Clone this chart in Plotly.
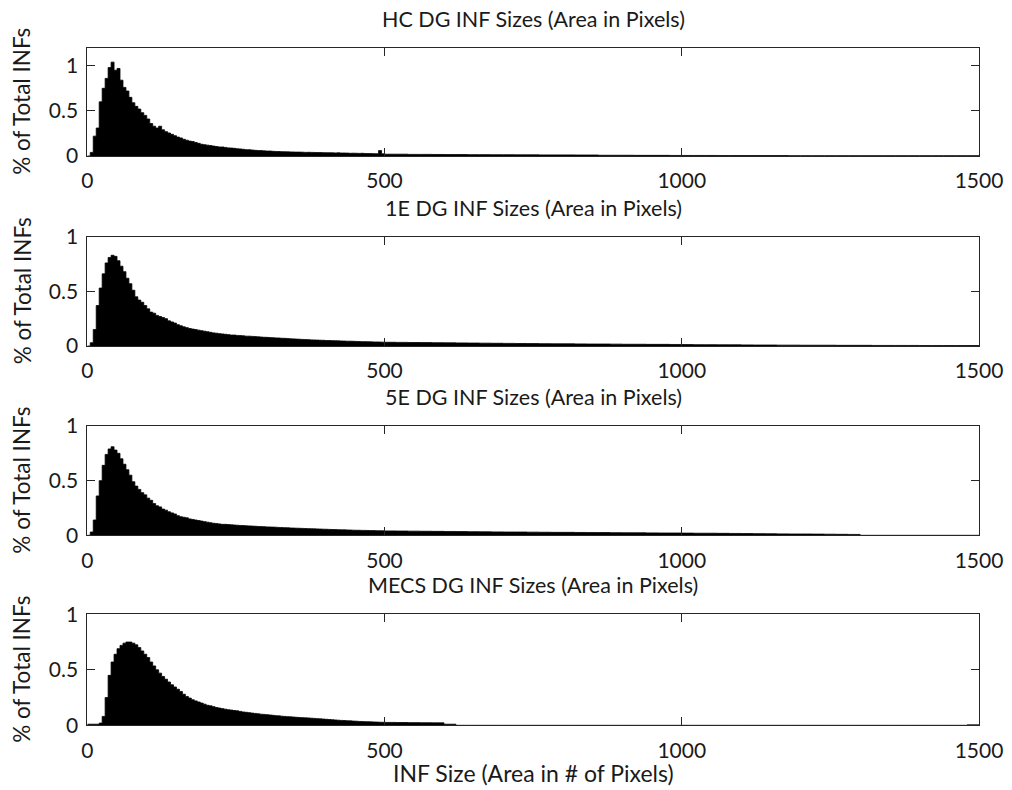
import numpy as np
import plotly.graph_objects as go

# Histogram bins: 5-pixel bins up to 500, 20-pixel bins from 500 to 1500
head_left = np.arange(0, 500, 5)
tail_left = np.arange(500, 1500, 20)
x_end = 1500

titles = [
    "HC DG INF Sizes (Area in Pixels)",
    "1E DG INF Sizes (Area in Pixels)",
    "5E DG INF Sizes (Area in Pixels)",
    "MECS DG INF Sizes (Area in Pixels)",
]

# % of total INFs per bin
hc_head = [
    0.0, 0.04, 0.22, 0.31, 0.60, 0.75, 0.86, 0.98, 1.04, 0.95,
    0.97, 0.84, 0.76, 0.72, 0.65, 0.59, 0.55, 0.52, 0.48, 0.45,
    0.41, 0.36, 0.33, 0.31, 0.33, 0.29, 0.27, 0.255, 0.24, 0.225,
    0.21, 0.20, 0.185, 0.175, 0.165, 0.16, 0.15, 0.14, 0.13, 0.125,
    0.12, 0.115, 0.11, 0.105, 0.10, 0.10, 0.095, 0.09, 0.088, 0.085,
    0.08, 0.078, 0.074, 0.07, 0.07, 0.066, 0.063, 0.06, 0.06, 0.057,
    0.055, 0.055, 0.052, 0.05, 0.05, 0.048, 0.047, 0.046, 0.045, 0.044,
    0.043, 0.043, 0.042, 0.04, 0.041, 0.04, 0.039, 0.038, 0.038, 0.037,
    0.036, 0.036, 0.035, 0.034, 0.035, 0.033, 0.033, 0.032, 0.03, 0.031,
    0.03, 0.029, 0.03, 0.028, 0.027, 0.027, 0.026, 0.025, 0.06, 0.024,
]
hc_tail = [
    0.02, 0.02, 0.018, 0.018, 0.017, 0.016, 0.016, 0.015, 0.015, 0.014,
    0.014, 0.013, 0.013, 0.012, 0.012, 0.012, 0.011, 0.011, 0.008, 0.008,
    0.008, 0.007, 0.007, 0.007, 0.006, 0.006, 0.006, 0.006, 0.005, 0.005,
    0.005, 0.005, 0.005, 0.005, 0.004, 0.004, 0.004, 0.004, 0.004, 0.004,
    0.004, 0.004, 0.004, 0.004, 0.004, 0.004, 0.004, 0.004, 0.004, 0.004,
]

e1_head = [
    0.0, 0.03, 0.15, 0.37, 0.53, 0.66, 0.76, 0.81, 0.83, 0.82,
    0.78, 0.73, 0.68, 0.62, 0.57, 0.51, 0.45, 0.42, 0.40, 0.37,
    0.34, 0.31, 0.30, 0.28, 0.27, 0.26, 0.25, 0.23, 0.22, 0.21,
    0.195, 0.185, 0.175, 0.168, 0.16, 0.155, 0.15, 0.145, 0.14, 0.135,
    0.13, 0.125, 0.12, 0.117, 0.113, 0.11, 0.107, 0.104, 0.10, 0.10,
    0.097, 0.095, 0.093, 0.09, 0.09, 0.088, 0.086, 0.084, 0.082, 0.08,
    0.079, 0.077, 0.076, 0.074, 0.073, 0.071, 0.07, 0.068, 0.066, 0.065,
    0.063, 0.062, 0.06, 0.059, 0.058, 0.056, 0.055, 0.054, 0.053, 0.052,
    0.05, 0.05, 0.049, 0.048, 0.047, 0.046, 0.045, 0.044, 0.044, 0.043,
    0.042, 0.041, 0.04, 0.04, 0.039, 0.038, 0.037, 0.037, 0.036, 0.035,
]
e1_tail = [
    0.034, 0.033, 0.032, 0.031, 0.03, 0.029, 0.028, 0.027, 0.026, 0.025,
    0.024, 0.023, 0.022, 0.021, 0.02, 0.02, 0.019, 0.018, 0.018, 0.017,
    0.016, 0.016, 0.015, 0.015, 0.014, 0.013, 0.012, 0.012, 0.011, 0.011,
    0.01, 0.009, 0.009, 0.008, 0.008, 0.007, 0.007, 0.007, 0.006, 0.006,
    0.006, 0.005, 0.005, 0.005, 0.005, 0.004, 0.004, 0.004, 0.004, 0.004,
]

e5_head = [
    0.0, 0.03, 0.14, 0.36, 0.50, 0.64, 0.74, 0.79, 0.81, 0.78,
    0.75, 0.70, 0.65, 0.60, 0.55, 0.49, 0.45, 0.42, 0.39, 0.37,
    0.34, 0.32, 0.29, 0.27, 0.26, 0.24, 0.23, 0.215, 0.205, 0.195,
    0.18, 0.17, 0.165, 0.16, 0.15, 0.145, 0.14, 0.135, 0.13, 0.125,
    0.12, 0.115, 0.11, 0.107, 0.104, 0.10, 0.10, 0.098, 0.096, 0.094,
    0.092, 0.09, 0.089, 0.087, 0.086, 0.084, 0.083, 0.081, 0.08, 0.079,
    0.077, 0.076, 0.075, 0.074, 0.072, 0.071, 0.07, 0.069, 0.067, 0.066,
    0.065, 0.064, 0.063, 0.062, 0.061, 0.06, 0.059, 0.058, 0.057, 0.056,
    0.055, 0.054, 0.053, 0.052, 0.051, 0.05, 0.05, 0.049, 0.048, 0.047,
    0.046, 0.046, 0.045, 0.045, 0.044, 0.043, 0.043, 0.042, 0.042, 0.041,
]
e5_tail = [
    0.04, 0.039, 0.038, 0.037, 0.036, 0.035, 0.034, 0.033, 0.032, 0.031,
    0.03, 0.03, 0.029, 0.028, 0.027, 0.027, 0.026, 0.025, 0.025, 0.024,
    0.023, 0.023, 0.022, 0.021, 0.021, 0.02, 0.019, 0.019, 0.018, 0.017,
    0.016, 0.015, 0.014, 0.013, 0.012, 0.012, 0.011, 0.01, 0.009, 0.008,
    0.0, 0.0, 0.0, 0.0, 0.0, 0.0, 0.0, 0.0, 0.0, 0.0,
]

mecs_head = [
    0.01, 0.01, 0.01, 0.01, 0.02, 0.08, 0.25, 0.45, 0.57, 0.64,
    0.69, 0.72, 0.74, 0.75, 0.75, 0.74, 0.725, 0.70, 0.67, 0.64,
    0.61, 0.57, 0.535, 0.50, 0.47, 0.44, 0.415, 0.39, 0.365, 0.345,
    0.325, 0.305, 0.28, 0.26, 0.245, 0.23, 0.22, 0.21, 0.20, 0.19,
    0.18, 0.175, 0.168, 0.16, 0.155, 0.15, 0.145, 0.14, 0.137, 0.133,
    0.13, 0.125, 0.12, 0.117, 0.114, 0.11, 0.107, 0.104, 0.10, 0.098,
    0.096, 0.093, 0.09, 0.087, 0.085, 0.082, 0.08, 0.078, 0.076, 0.074,
    0.072, 0.07, 0.069, 0.067, 0.066, 0.064, 0.062, 0.06, 0.058, 0.056,
    0.054, 0.052, 0.05, 0.048, 0.046, 0.044, 0.043, 0.041, 0.04, 0.038,
    0.037, 0.035, 0.034, 0.033, 0.032, 0.031, 0.03, 0.029, 0.028, 0.027,
]
mecs_tail = [
    0.026, 0.025, 0.024, 0.023, 0.022, 0.01, 0.0, 0.0, 0.0, 0.0,
    0.0, 0.0, 0.0, 0.0, 0.0, 0.0, 0.0, 0.0, 0.0, 0.0,
    0.0, 0.0, 0.0, 0.0, 0.0, 0.0, 0.0, 0.0, 0.0, 0.0,
    0.0, 0.0, 0.0, 0.0, 0.0, 0.0, 0.0, 0.0, 0.0, 0.0,
    0.0, 0.0, 0.0, 0.0, 0.0, 0.0, 0.0, 0.0, 0.0, 0.004,
]

series = [
    (hc_head, hc_tail),
    (e1_head, e1_tail),
    (e5_head, e5_tail),
    (mecs_head, mecs_tail),
]
y_max = [1.2, 1.0, 1.0, 1.0]

W, H = 1012, 790
# axes boxes in pixels (left, right, top, bottom)
ax_left, ax_right = 87.3, 979.0
ax_tops = [47.7, 236.7, 426.0, 614.3]
ax_bottoms = [156.0, 346.0, 535.3, 725.3]

FONT = "Lato"
AX_COLOR = "#262626"
TXT_COLOR = "#1a1a1a"

fig = go.Figure()
layout = dict(
    width=W, height=H,
    margin=dict(l=0, r=0, t=0, b=0, autoexpand=False),
    paper_bgcolor="white", plot_bgcolor="white",
    showlegend=False,
    font=dict(family=FONT, color=TXT_COLOR, size=21),
)
annotations = []

for i, (head, tail) in enumerate(series):
    n = i + 1
    xa = "x" if n == 1 else f"x{n}"
    ya = "y" if n == 1 else f"y{n}"
    # solid histogram drawn as a filled step outline over the bin edges
    lefts = np.concatenate([head_left, tail_left, [x_end]])
    vals = list(head) + list(tail)
    vals = vals + [vals[-1]]
    fig.add_trace(go.Scatter(
        x=lefts, y=vals, mode="lines", line_shape="hv",
        line=dict(color="black", width=0.8),
        fill="tozeroy", fillcolor="black",
        xaxis=xa, yaxis=ya, hoverinfo="skip",
    ))
    ytop = 1 - ax_tops[i] / H
    ybot = 1 - ax_bottoms[i] / H
    axis_common = dict(
        showline=True, linecolor=AX_COLOR, linewidth=1, mirror="ticks",
        ticks="inside", ticklen=8, tickcolor=AX_COLOR, tickwidth=1,
        showgrid=False, zeroline=False, automargin=False,
        tickfont=dict(family=FONT, size=21, color=TXT_COLOR),
    )
    layout[f"xaxis{'' if n == 1 else n}"] = dict(
        domain=[ax_left / W, ax_right / W], range=[0, 1500],
        tickvals=[0, 500, 1000, 1500], ticklabelstandoff=6,
        anchor=ya, **axis_common,
    )
    layout[f"yaxis{'' if n == 1 else n}"] = dict(
        domain=[ybot, ytop], range=[0, y_max[i]],
        tickvals=[0, 0.5, 1], ticktext=["0", "0.5", "1"], ticklabelstandoff=4,
        anchor=xa, **axis_common,
    )
    annotations.append(dict(
        text=titles[i], xref="paper", yref="paper",
        x=(ax_left + ax_right) / 2 / W, y=ytop, yshift=29,
        xanchor="center", yanchor="middle", showarrow=False,
        font=dict(family=FONT, size=21.5, color=TXT_COLOR),
    ))
    annotations.append(dict(
        text="% of Total INFs", xref="paper", yref="paper",
        x=22 / W, y=(ytop + ybot) / 2, textangle=-90,
        xanchor="center", yanchor="middle", showarrow=False,
        font=dict(family=FONT, size=22.5, color=TXT_COLOR),
    ))

annotations.append(dict(
    text="INF Size (Area in # of Pixels)", xref="paper", yref="paper",
    x=(ax_left + ax_right) / 2 / W, y=1 - 773 / H,
    xanchor="center", yanchor="middle", showarrow=False,
    font=dict(family=FONT, size=23, color=TXT_COLOR),
))
layout["annotations"] = annotations
fig.update_layout(**layout)
fig.write_html("out.html")
